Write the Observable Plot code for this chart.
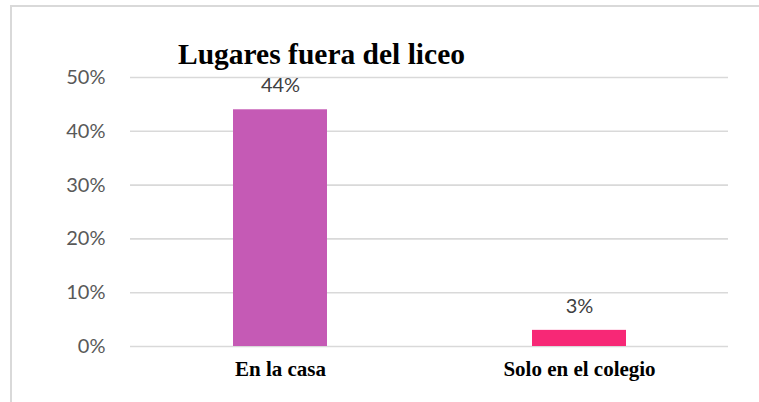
<!DOCTYPE html>
<html>
<head>
<meta charset="utf-8">
<script src="https://cdn.jsdelivr.net/npm/d3@7"></script>
<script src="https://cdn.jsdelivr.net/npm/@observablehq/plot@0.6"></script>
<style>
  html, body { margin: 0; padding: 0; background: #fff; }
  #wrap { position: relative; width: 759px; height: 402px; overflow: hidden; }
  #frame { position: absolute; left: 10px; top: 5px; width: 760px; height: 420px;
           border-left: 2px solid #d9d9d9; border-top: 2px solid #d9d9d9; box-sizing: border-box; }
  #title { position: absolute; left: 0; width: 643px; top: 40px; text-align: center;
           font-family: "Liberation Serif", "Times New Roman", serif; font-weight: bold;
           font-size: 29.5px; color: #000; margin: 0; line-height: 1; }
  #chart { position: absolute; left: 0; top: 0; }
</style>
</head>
<body>
<div id="wrap">
  <div id="frame"></div>
  <div id="chart"></div>
  <div id="title">Lugares fuera del liceo</div>
</div>
<script>
const categories = ["En la casa", "Solo en el colegio"];
const values = [0.44, 0.03];
const labels = ["44%", "3%"];
const colors = ["#C55AB5", "#F72876"];
const yTicks = [0, 0.1, 0.2, 0.3, 0.4, 0.5];

const data = categories.map((c, i) => ({cat: c, v: values[i], label: labels[i], color: colors[i]}));

const chart = Plot.plot({
  width: 759,
  height: 402,
  marginLeft: 130,
  marginRight: 31,
  marginTop: 77,
  marginBottom: 56,
  style: {background: "transparent", overflow: "visible"},
  x: {domain: categories, paddingInner: 0.686, paddingOuter: 0.343, label: null},
  y: {domain: [0, 0.5], label: null},
  marks: [
    Plot.ruleY(yTicks, {stroke: "#d9d9d9", strokeWidth: 1.6}),
    Plot.barY(data, {x: "cat", y: "v", fill: "color"}),
    Plot.text(data, {x: "cat", y: "v", text: "label", dy: -24, lineAnchor: "middle",
      fill: "#404040", fontSize: 20, fontFamily: "Lato, 'Open Sans', sans-serif"}),
    Plot.axisY({ticks: yTicks, tickFormat: d => Math.round(d * 100) + "%", tickSize: 0, tickPadding: 25,
      fontSize: 20, fontFamily: "Lato, 'Open Sans', sans-serif", color: "#595959", label: null}),
    Plot.axisX({tickSize: 0, tickPadding: 15, fontSize: 21, fontWeight: "bold",
      fontFamily: "'Liberation Serif', 'Times New Roman', serif", color: "#000", label: null})
  ]
});
document.getElementById("chart").appendChild(chart);
</script>
</body>
</html>
